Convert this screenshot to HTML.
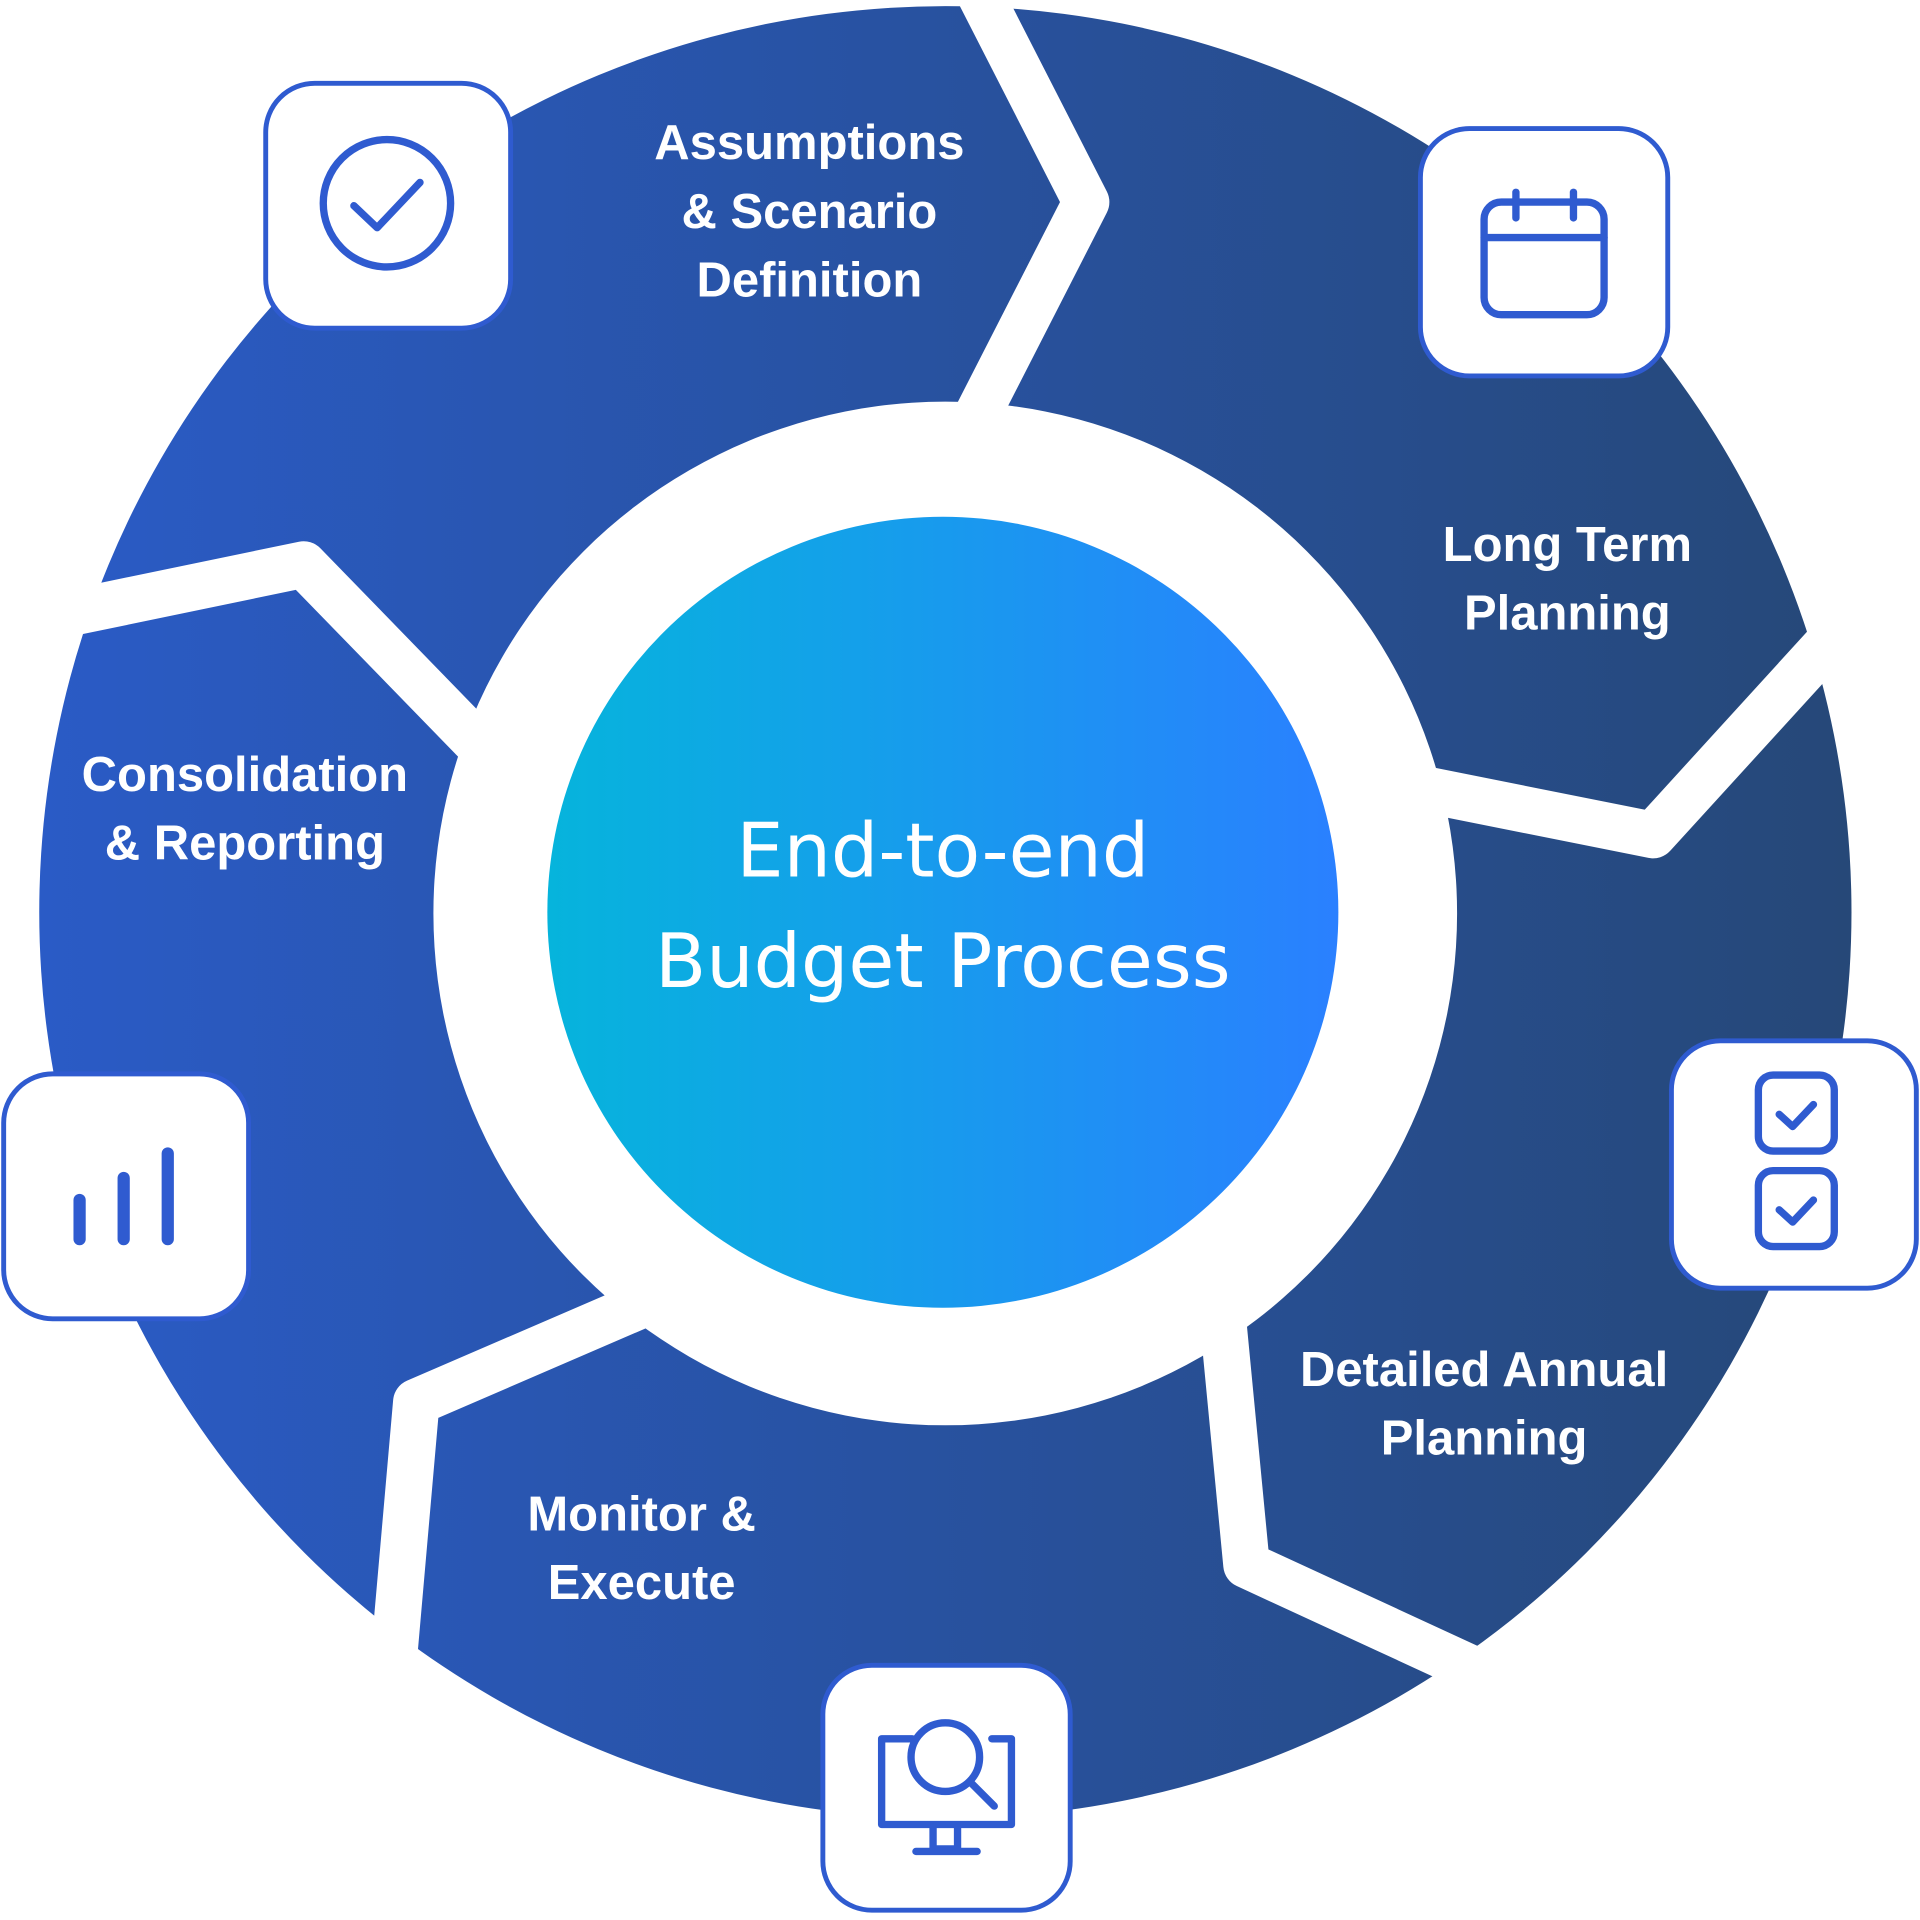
<!DOCTYPE html>
<html><head><meta charset="utf-8"><style>
html,body{margin:0;padding:0;background:#fff;width:1920px;height:1920px;overflow:hidden}
svg{display:block}
.t{font-family:"Liberation Sans",sans-serif;font-weight:bold;fill:#fff;font-size:40px;text-anchor:middle}
.c{font-family:"DejaVu Sans","Liberation Sans",sans-serif;fill:#fff;font-size:61px;text-anchor:middle}
.ic{fill:none;stroke:#2f5bd0;stroke-width:6;stroke-linecap:round;stroke-linejoin:round}
</style></head><body>
<svg width="1920" height="1920" viewBox="0 0 1568 1568" xmlns="http://www.w3.org/2000/svg">
<defs>
<linearGradient id="rg" x1="0" x2="1" y1="0" y2="0">
<stop offset="0" stop-color="#2a5bc6"/><stop offset="1" stop-color="#264878"/></linearGradient>
<linearGradient id="cg" x1="0" x2="1" y1="0" y2="0">
<stop offset="0" stop-color="#06b4dc"/><stop offset="1" stop-color="#2a80ff"/></linearGradient>
</defs>
<path d="M772,5 a740,740 0 1,0 0.1,0 Z M772,328 a418,418 0 1,1 -0.1,0 Z" fill="url(#rg)" fill-rule="evenodd"/>
<g fill="none" stroke="#fff" stroke-width="38" stroke-linejoin="round" stroke-linecap="butt">
<polyline points="795,-15 887,165 795,345"/>
<polyline points="1120,636 1350,682 1505,512"/>
<polyline points="998,1070 1018,1278 1200,1362"/>
<polyline points="560,1050 340,1145 322,1350"/>
<polyline points="60,500 248,461 388,605"/>
</g>
<circle cx="770" cy="745" r="323" fill="url(#cg)"/>
<text class="c" x="770" y="716">End-to-end</text>
<text class="c" x="770" y="806">Budget Process</text>
<g class="t">
<text x="661" y="130">Assumptions</text>
<text x="661" y="186">&amp; Scenario</text>
<text x="661" y="242">Definition</text>
<text x="1280" y="458">Long Term</text>
<text x="1280" y="514">Planning</text>
<text x="200" y="646">Consolidation</text>
<text x="200" y="702">&amp; Reporting</text>
<text x="1212" y="1132">Detailed Annual</text>
<text x="1212" y="1188">Planning</text>
<text x="524" y="1250">Monitor &amp;</text>
<text x="524" y="1306">Execute</text>
</g>
<g fill="#fff" stroke="#2f5bd0" stroke-width="4">
<rect x="217" y="68" width="200" height="200" rx="40"/>
<rect x="1160" y="105" width="202" height="202" rx="40"/>
<rect x="1365" y="850" width="200" height="202" rx="40"/>
<rect x="672" y="1360" width="202" height="200" rx="40"/>
<rect x="3" y="877" width="200" height="200" rx="40"/>
</g>
<g class="ic">
<circle cx="316" cy="166" r="52"/>
<polyline points="289,168 308,186 343,149"/>
<rect x="1212" y="165" width="98" height="92" rx="14"/>
<line x1="1212" y1="194" x2="1310" y2="194"/>
<line x1="1238" y1="157" x2="1238" y2="178"/><line x1="1285" y1="157" x2="1285" y2="178"/>
<rect x="1436" y="878" width="62" height="62" rx="12"/>
<polyline points="1453,910 1464,920 1481,902"/>
<rect x="1436" y="956" width="62" height="62" rx="12"/>
<polyline points="1453,988 1464,998 1481,980"/>
<g stroke-width="10"><line x1="65" y1="980" x2="65" y2="1012"/><line x1="101" y1="962" x2="101" y2="1012"/><line x1="137" y1="942" x2="137" y2="1012"/></g>
<path d="M745,1420 H720 V1490 H826 V1420 H810"/>
<circle cx="772" cy="1435" r="28"/>
<line x1="792" y1="1455" x2="812" y2="1475"/>
<path d="M762,1492 V1510 H782 V1492 M748,1512 H798"/>
</g>
</svg>
</body></html>
